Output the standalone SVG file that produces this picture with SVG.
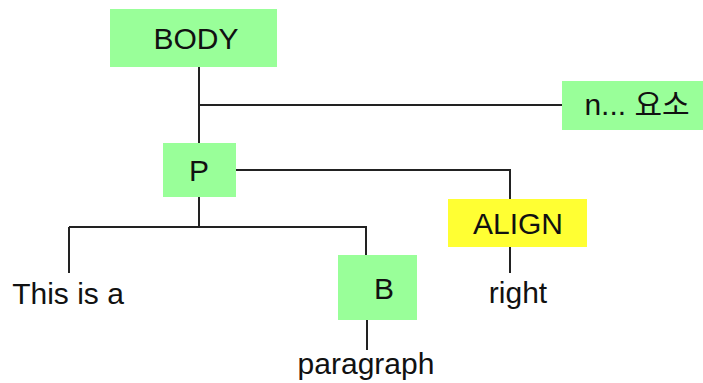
<svg xmlns="http://www.w3.org/2000/svg" width="703" height="383" viewBox="0 0 703 383">
<style>
.g{fill:#99ff99}
.y{fill:#ffff33}
text{font-family:"Liberation Sans","Noto Sans CJK KR",sans-serif;font-size:30px;fill:#111;text-anchor:middle}
#connectors path{stroke:#222;stroke-width:2;fill:none}
</style>
<rect width="703" height="383" fill="#fff"/>
<g id="connectors">
<path d="M199 67V143"/>
<path d="M199 105H562"/>
<path d="M199 197V227"/>
<path d="M69 227H366V255"/>
<path d="M69 227V273"/>
<path d="M236 170H510V199"/>
<path d="M510 247V273"/>
<path d="M367 320V350"/>
</g>
<g id="body"><rect class="g" x="110" y="9" width="167" height="58"/><text x="196" y="49">BODY</text></g>
<g id="n-elements"><rect class="g" x="562" y="81" width="141" height="49"/><text x="637" y="115">n... 요소</text></g>
<g id="p"><rect class="g" x="163" y="143" width="73" height="54"/><text x="199" y="181">P</text></g>
<g id="align"><rect class="y" x="448" y="199" width="139" height="48"/><text x="518" y="234">ALIGN</text></g>
<g id="b"><rect class="g" x="338" y="255" width="79" height="65"/><text x="384" y="299">B</text></g>
<g id="text-this"><text x="68" y="304">This is a</text></g>
<g id="text-right"><text x="518" y="303">right</text></g>
<g id="text-paragraph"><text x="366" y="374">paragraph</text></g>
</svg>
